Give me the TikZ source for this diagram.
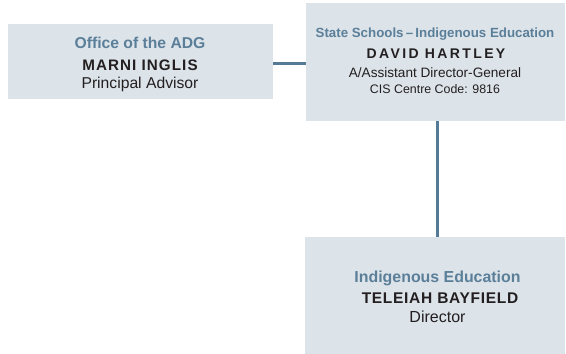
\documentclass[tikz,border=0pt]{standalone}
\usepackage{fontspec}
\setmainfont{Liberation Sans}
\definecolor{boxfill}{HTML}{DCE3E9}
\definecolor{linecol}{HTML}{557A95}
\definecolor{titlecol}{HTML}{5B7F99}
\definecolor{textcol}{HTML}{231F20}
\begin{document}
\begin{tikzpicture}[x=1pt,y=-1pt,
  orgbox/.style={fill=boxfill,draw=none},
  conn/.style={draw=linecol,line width=2.6pt},
  txt/.style={anchor=base,inner sep=0pt,text=textcol},
  ttl/.style={anchor=base,inner sep=0pt,text=titlecol,font=\bfseries}]
\useasboundingbox (0,0) rectangle (566,354);
\fill[white] (0,0) rectangle (566,354);
% boxes
\node[orgbox,minimum width=265pt,minimum height=75pt,inner sep=0pt] (adg) at (140.5,61.5) {};
\node[orgbox,minimum width=259pt,minimum height=118pt,inner sep=0pt] (ssie) at (435.5,62) {};
\node[orgbox,minimum width=260pt,minimum height=120pt,inner sep=0pt] (ie) at (435,297) {};
% connectors
\draw[conn] (adg.east |- 0,63.5) -- (ssie.west |- 0,63.5);
\draw[conn] (437.5,121) coordinate (c1) -- (437.5,237) coordinate (c2);
% box 1 text
\node[ttl,font=\bfseries\fontsize{15.7}{18}\selectfont] (t1) at (140,48) {Office of the ADG};
\node[txt,font=\bfseries\fontsize{15.2}{18}\selectfont\addfontfeature{LetterSpace=7}] (n1) at (140,70) {MARNI INGLIS};
\node[txt,font=\fontsize{15.7}{18}\selectfont] (r1) at (140,88) {Principal Advisor};
% box 2 text
\node[ttl,font=\bfseries\fontsize{13.3}{16}\selectfont] (t2) at (435,37) {State Schools\,–\,Indigenous Education};
\node[txt,font=\bfseries\fontsize{14}{17}\selectfont\addfontfeature{LetterSpace=17}] (n2) at (436,58) {DAVID HARTLEY};
\node[txt,font=\fontsize{13.6}{17}\selectfont] (r2) at (435,77) {A/Assistant Director-General};
\node[txt,font=\fontsize{12.4}{15}\selectfont] (c3) at (435,93) {CIS Centre Code: 9816};
% box 3 text
\node[ttl,font=\bfseries\fontsize{15.9}{18}\selectfont] (t3) at (437.5,282) {Indigenous Education};
\node[txt,font=\bfseries\fontsize{15.5}{18}\selectfont\addfontfeature{LetterSpace=4.5}] (n3) at (440,303) {TELEIAH BAYFIELD};
\node[txt,font=\fontsize{16}{18}\selectfont] (r3) at (437.5,322) {Director};
\end{tikzpicture}
\end{document}
